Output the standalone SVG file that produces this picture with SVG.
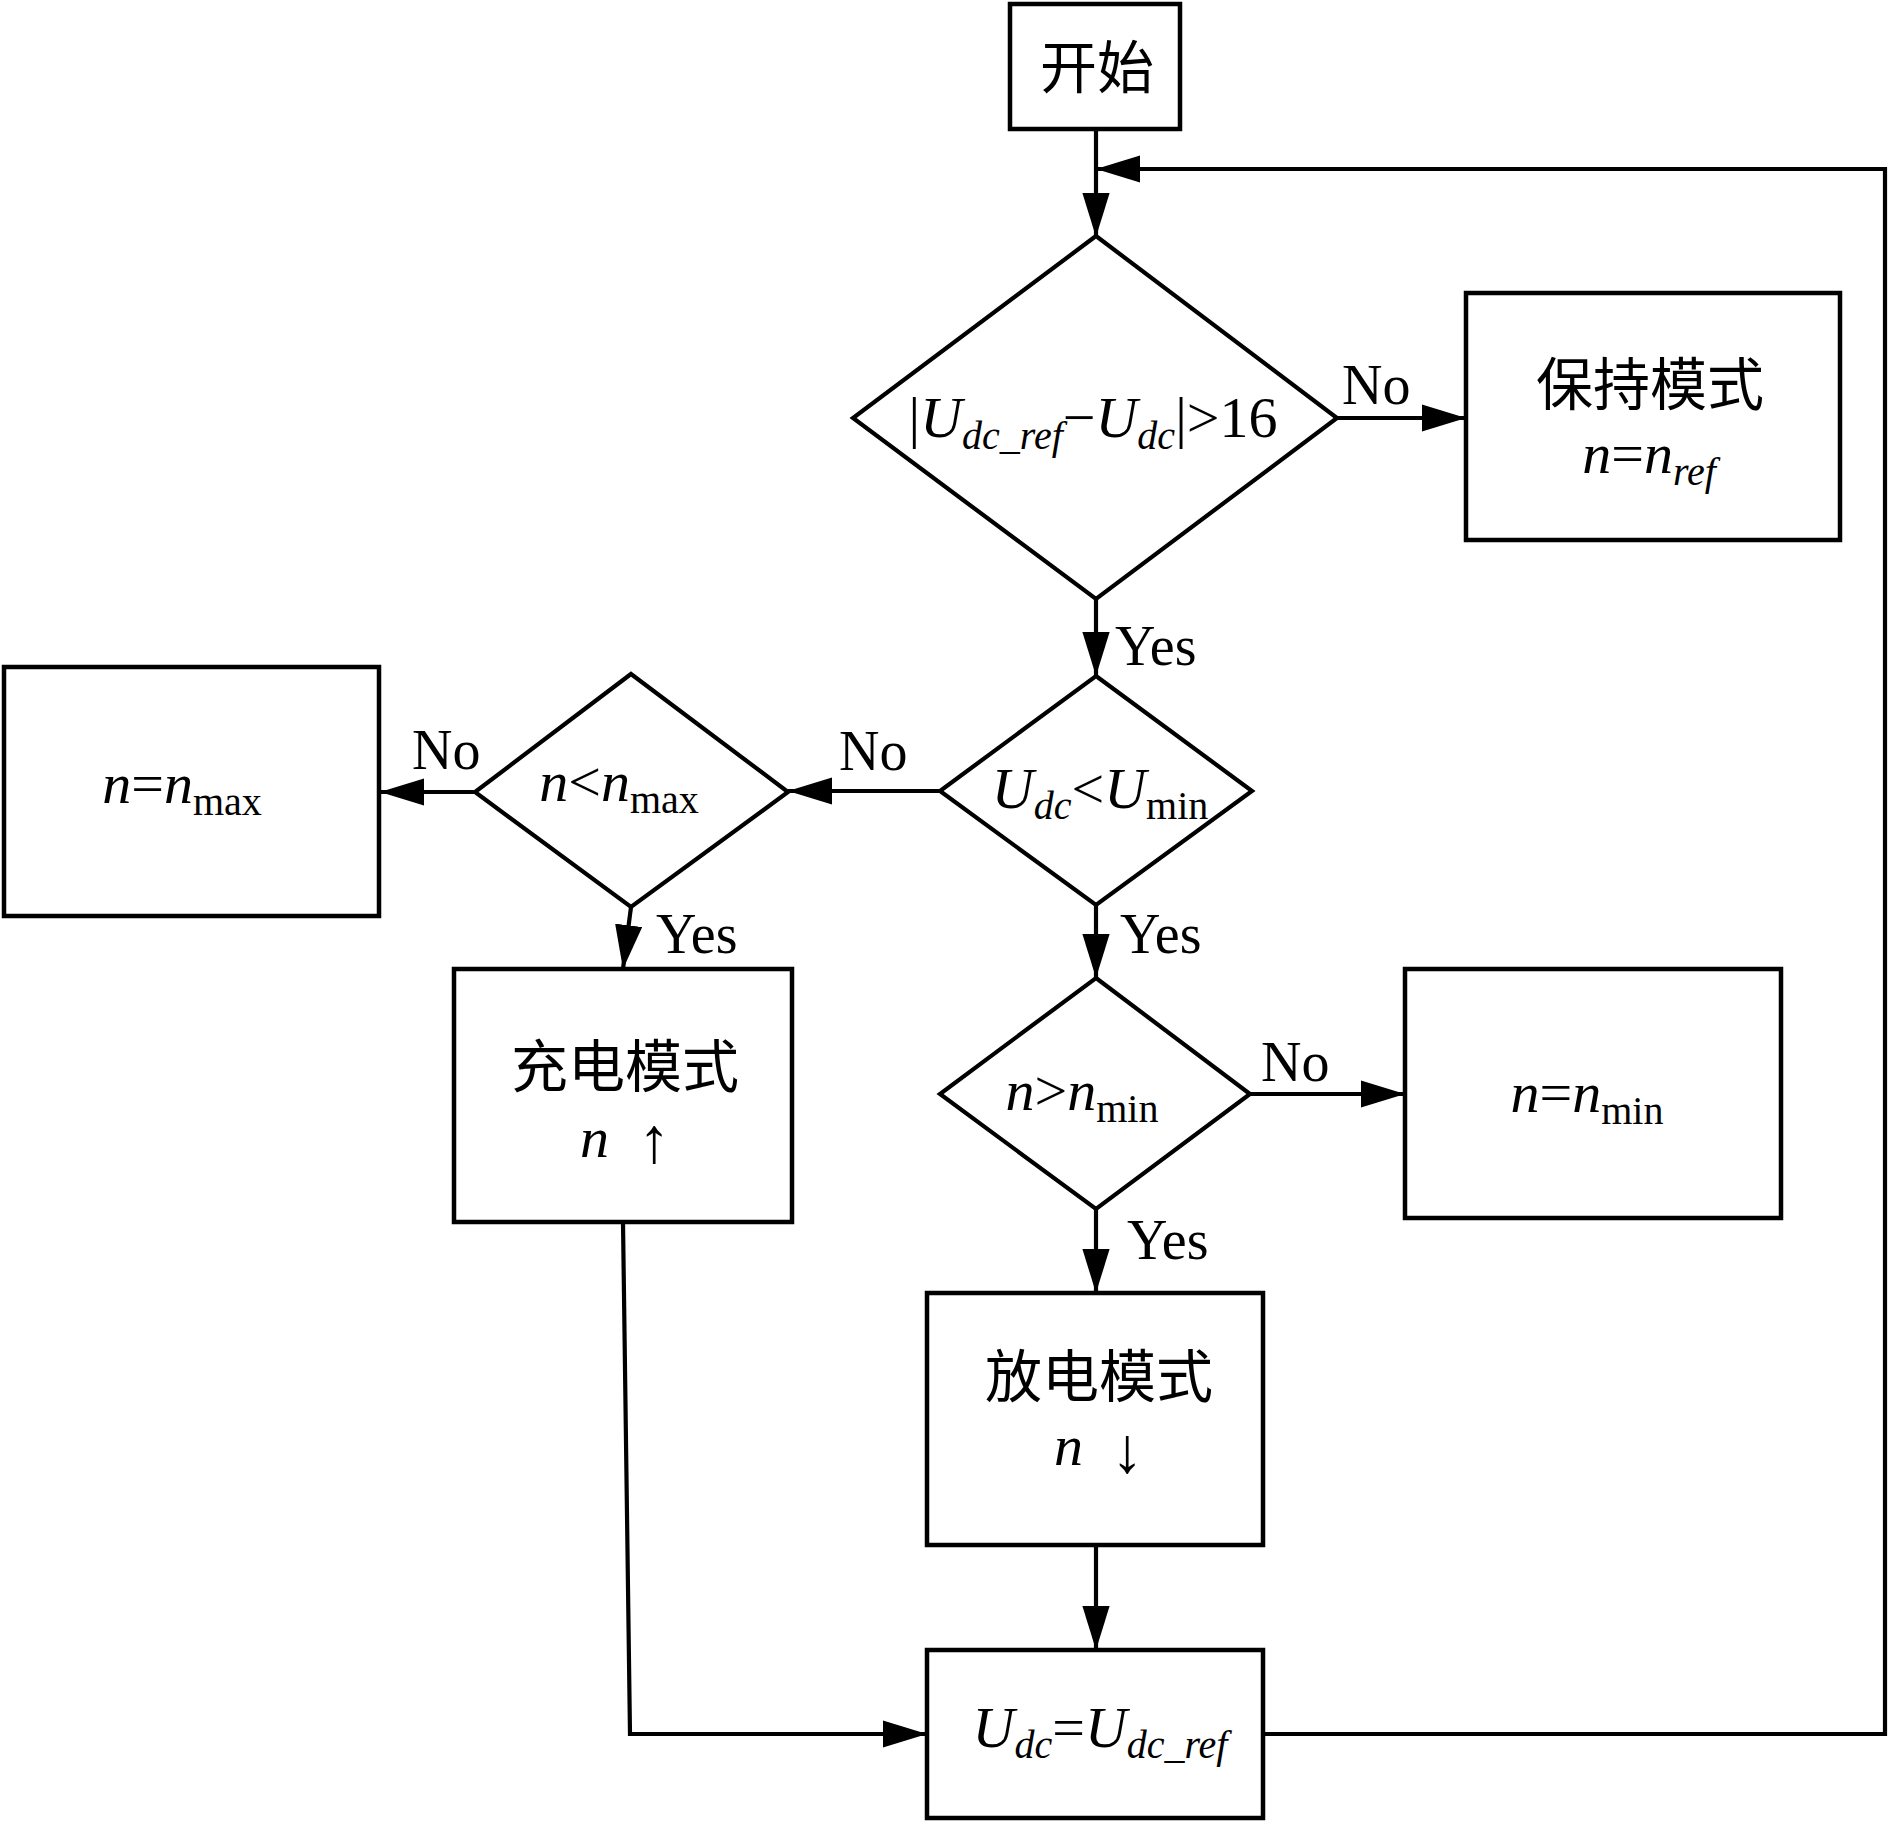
<svg xmlns="http://www.w3.org/2000/svg" width="1890" height="1821" viewBox="0 0 1890 1821">
<style>
.box{fill:#fff;stroke:#000;stroke-width:4.5}
.dia{fill:#fff;stroke:#000;stroke-width:4.2;stroke-linejoin:miter}
.ln{fill:none;stroke:#000;stroke-width:4.2}
text{font-family:'Liberation Serif','Noto Sans CJK SC',serif;font-size:58px;fill:#000}
.zh{font-family:'Noto Sans CJK SC','Liberation Serif',sans-serif;font-size:57px}
.lbl{font-size:56px}
.i{font-style:italic}
.s{font-size:40px}
.arr{font-family:'Liberation Serif',serif;font-size:64px}
</style>
<defs>
<marker id="ah" markerUnits="userSpaceOnUse" markerWidth="44" markerHeight="28" viewBox="0 0 42 26" refX="42" refY="13" orient="auto">
<path d="M0,0 L42,13 L0,26 Z" fill="#000"/>
</marker>
</defs>
<rect width="1890" height="1821" fill="#fff"/>
<g id="connectors">
<path class="ln" d="M1096,129 V237" marker-end="url(#ah)"/>
<path class="ln" d="M1263,1734 H1885 V169 H1096" marker-end="url(#ah)"/>
<path class="ln" d="M1337,418 H1466" marker-end="url(#ah)"/>
<path class="ln" d="M1096,599 V676" marker-end="url(#ah)"/>
<path class="ln" d="M940,791 H788" marker-end="url(#ah)"/>
<path class="ln" d="M475,792 H380" marker-end="url(#ah)"/>
<path class="ln" d="M631,907 L623,969" marker-end="url(#ah)"/>
<path class="ln" d="M1096,905 V978" marker-end="url(#ah)"/>
<path class="ln" d="M1250,1094 H1405" marker-end="url(#ah)"/>
<path class="ln" d="M1096,1209 V1293" marker-end="url(#ah)"/>
<path class="ln" d="M1096,1545 V1650" marker-end="url(#ah)"/>
<path class="ln" d="M623,1222 L630,1734 H927" marker-end="url(#ah)"/>
<text class="lbl" x="1342" y="404">No</text>
<text class="lbl" x="1115" y="665">Yes</text>
<text class="lbl" x="839" y="770">No</text>
<text class="lbl" x="412" y="769">No</text>
<text class="lbl" x="656" y="953">Yes</text>
<text class="lbl" x="1120" y="953">Yes</text>
<text class="lbl" x="1261" y="1081">No</text>
<text class="lbl" x="1127" y="1259">Yes</text>
</g>
<g id="start">
<rect class="box" x="1010" y="4" width="170" height="125"/>
<text class="zh" x="1097" y="88" text-anchor="middle">开始</text>
</g>
<g id="cond1">
<polygon class="dia" points="1096,236 1337,418 1096,599 853,418"/>
<text x="1093" y="437" text-anchor="middle">|<tspan class="i">U</tspan><tspan class="i s" dy="12">dc_ref</tspan><tspan dy="-12">−</tspan><tspan class="i">U</tspan><tspan class="i s" dy="12">dc</tspan><tspan dy="-12">|&gt;16</tspan></text>
</g>
<g id="hold">
<rect class="box" x="1466" y="293" width="374" height="247"/>
<text class="zh" x="1650" y="405" text-anchor="middle">保持模式</text>
<text x="1649" y="473" text-anchor="middle"><tspan class="i">n</tspan>=<tspan class="i">n</tspan><tspan class="i s" dy="12">ref</tspan></text>
</g>
<g id="cond2">
<polygon class="dia" points="1096,676 1252,791 1096,905 940,791"/>
<text x="1100" y="808" text-anchor="middle"><tspan class="i">U</tspan><tspan class="i s" dy="11">dc</tspan><tspan dy="-11">&lt;</tspan><tspan class="i">U</tspan><tspan class="s" dy="11">min</tspan></text>
</g>
<g id="cond3">
<polygon class="dia" points="631,674 788,792 631,907 475,792"/>
<text x="619" y="801" text-anchor="middle"><tspan class="i">n</tspan>&lt;<tspan class="i">n</tspan><tspan class="s" dy="12">max</tspan></text>
</g>
<g id="nmax">
<rect class="box" x="4" y="667" width="375" height="249"/>
<text x="182" y="803" text-anchor="middle"><tspan class="i">n</tspan>=<tspan class="i">n</tspan><tspan class="s" dy="12">max</tspan></text>
</g>
<g id="charge">
<rect class="box" x="454" y="969" width="338" height="253"/>
<text class="zh" x="625" y="1087" text-anchor="middle">充电模式</text>
<text class="i" x="580" y="1157">n</text>
<text class="arr" x="654" y="1162" text-anchor="middle">↑</text>
</g>
<g id="cond4">
<polygon class="dia" points="1096,978 1250,1094 1096,1209 940,1094"/>
<text x="1082" y="1110" text-anchor="middle"><tspan class="i">n</tspan>&gt;<tspan class="i">n</tspan><tspan class="s" dy="12">min</tspan></text>
</g>
<g id="nmin">
<rect class="box" x="1405" y="969" width="376" height="249"/>
<text x="1587" y="1112" text-anchor="middle"><tspan class="i">n</tspan>=<tspan class="i">n</tspan><tspan class="s" dy="12">min</tspan></text>
</g>
<g id="discharge">
<rect class="box" x="927" y="1293" width="336" height="252"/>
<text class="zh" x="1099" y="1397" text-anchor="middle">放电模式</text>
<text class="i" x="1054" y="1465">n</text>
<text class="arr" x="1127" y="1472" text-anchor="middle">↓</text>
</g>
<g id="final">
<rect class="box" x="927" y="1650" width="336" height="168"/>
<text x="1100" y="1747" text-anchor="middle"><tspan class="i">U</tspan><tspan class="i s" dy="11">dc</tspan><tspan dy="-11">=</tspan><tspan class="i">U</tspan><tspan class="i s" dy="11">dc_ref</tspan></text>
</g>
</svg>
